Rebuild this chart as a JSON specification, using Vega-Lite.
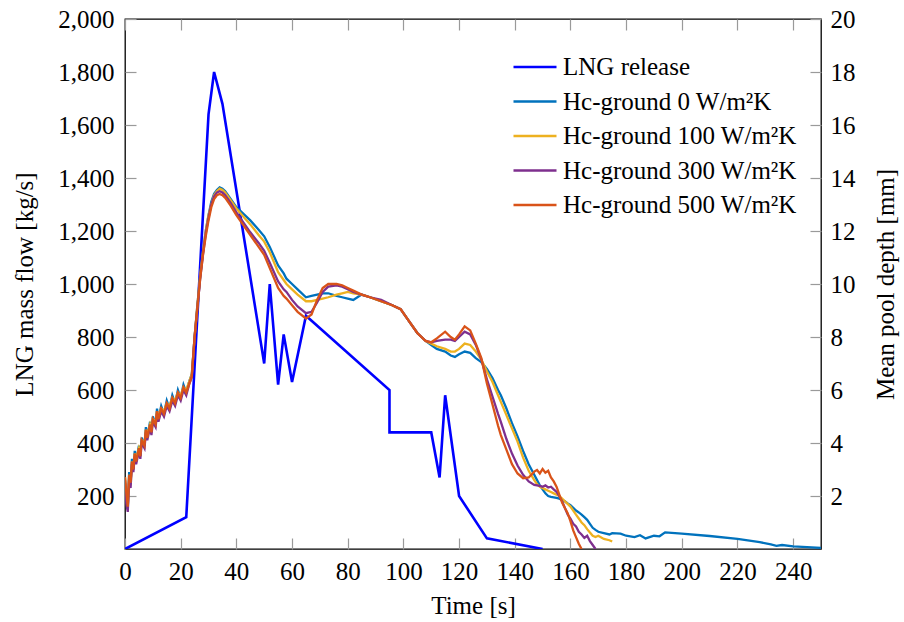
{
  "$schema": "https://vega.github.io/schema/vega-lite/v6.json",
  "width": 696,
  "height": 530,
  "autosize": {"type": "none"},
  "padding": {"left": 125, "top": 19, "right": 83, "bottom": 73},
  "config": {
    "view": {"stroke": "black", "strokeWidth": 1.3},
    "font": "Liberation Serif",
    "axis": {
      "domain": false,
      "grid": false,
      "tickColor": "#9a9a9a",
      "tickSize": -11,
      "tickWidth": 1.2,
      "labelFontSize": 25,
      "titleFontSize": 25,
      "labelColor": "black",
      "titleColor": "black",
      "titleFontWeight": "normal",
      "labelFont": "Liberation Serif",
      "titleFont": "Liberation Serif"
    },
    "legend": {"labelFont": "Liberation Serif"}
  },
  "layer": [
    {
      "data": {
        "values": [
          {"t": 0, "v": 0}, {"t": 22, "v": 120}, {"t": 30, "v": 1640}, {"t": 32, "v": 1800},
          {"t": 35, "v": 1680}, {"t": 50, "v": 700}, {"t": 52, "v": 1000}, {"t": 55, "v": 620},
          {"t": 57, "v": 810}, {"t": 60, "v": 630}, {"t": 65, "v": 880}, {"t": 95, "v": 600},
          {"t": 95, "v": 440}, {"t": 110, "v": 440}, {"t": 113, "v": 270}, {"t": 115, "v": 580},
          {"t": 120, "v": 200}, {"t": 130, "v": 40}, {"t": 150, "v": 0}
        ]
      },
      "mark": {"type": "line", "strokeWidth": 2.6, "clip": true},
      "encoding": {
        "x": {
          "field": "t", "type": "quantitative",
          "scale": {"domain": [0, 250], "nice": false, "zero": false},
          "axis": {"orient": "bottom", "title": "Time [s]", "values": [0, 20, 40, 60, 80, 100, 120, 140, 160, 180, 200, 220, 240], "labelPadding": 21, "titlePadding": 9, "labelFlush": false}
        },
        "y": {
          "field": "v", "type": "quantitative",
          "scale": {"domain": [0, 2000], "nice": false},
          "axis": {"orient": "left", "title": "LNG mass flow [kg/s]", "values": [200, 400, 600, 800, 1000, 1200, 1400, 1600, 1800, 2000], "format": ",.0f", "labelPadding": 22, "titlePadding": 20}
        },
        "color": {
          "datum": "LNG", "type": "nominal",
          "scale": {"domain": ["LNG", "h0", "h100", "h300", "h500"], "range": ["#0000ff", "#0072BD", "#EDB120", "#7E2F8E", "#D95319"]},
          "legend": {
            "orient": "none", "legendX": 387, "legendY": 36, "title": null,
            "symbolType": "stroke", "symbolSize": 1850, "symbolStrokeWidth": 2.5,
            "labelFontSize": 25, "labelOffset": 5, "clipHeight": 24, "rowPadding": 9.5, "labelLimit": 500,
            "labelColor": "black",
            "labelExpr": "datum.value == 'LNG' ? 'LNG release' : datum.value == 'h0' ? 'Hc-ground 0 W/m²K' : datum.value == 'h100' ? 'Hc-ground 100 W/m²K' : datum.value == 'h300' ? 'Hc-ground 300 W/m²K' : 'Hc-ground 500 W/m²K'"
          }
        }
      }
    },
    {
      "data": {
        "values": [
          {"t": 0, "h0": 2.6, "h100": 2.7, "h300": 2.5, "h500": 2.7},
          {"t": 0.5, "h0": 1.9, "h100": 2.0, "h300": 1.7, "h500": 2.1},
          {"t": 1, "h0": 1.5, "h100": 1.6, "h300": 1.4, "h500": 1.6},
          {"t": 1.5, "h0": 2.9, "h100": 2.8, "h300": 2.7, "h500": 2.8},
          {"t": 2, "h0": 2.5, "h100": 2.4, "h300": 2.3, "h500": 2.5},
          {"t": 2.5, "h0": 3.4, "h100": 3.3, "h300": 3.2, "h500": 3.3},
          {"t": 3, "h0": 3.0, "h100": 3.1, "h300": 2.9, "h500": 3.0},
          {"t": 3.5, "h0": 3.7, "h100": 3.6, "h300": 3.5, "h500": 3.6},
          {"t": 4, "h0": 3.3, "h100": 3.4, "h300": 3.2, "h500": 3.3},
          {"t": 5, "h0": 3.9, "h100": 3.8, "h300": 3.7, "h500": 3.8},
          {"t": 5.5, "h0": 3.5, "h100": 3.6, "h300": 3.4, "h500": 3.5},
          {"t": 6, "h0": 4.2, "h100": 4.1, "h300": 4.0, "h500": 4.1},
          {"t": 7, "h0": 3.9, "h100": 4.0, "h300": 3.8, "h500": 3.9},
          {"t": 7.5, "h0": 4.6, "h100": 4.5, "h300": 4.4, "h500": 4.5},
          {"t": 8, "h0": 4.2, "h100": 4.3, "h300": 4.1, "h500": 4.2},
          {"t": 9, "h0": 4.8, "h100": 4.7, "h300": 4.6, "h500": 4.7},
          {"t": 9.5, "h0": 4.4, "h100": 4.5, "h300": 4.3, "h500": 4.4},
          {"t": 10, "h0": 5.0, "h100": 4.9, "h300": 4.8, "h500": 4.9},
          {"t": 11, "h0": 4.7, "h100": 4.8, "h300": 4.6, "h500": 4.7},
          {"t": 11.5, "h0": 5.3, "h100": 5.2, "h300": 5.1, "h500": 5.2},
          {"t": 12, "h0": 4.9, "h100": 5.0, "h300": 4.8, "h500": 4.9},
          {"t": 13, "h0": 5.4, "h100": 5.3, "h300": 5.2, "h500": 5.3},
          {"t": 14, "h0": 5.1, "h100": 5.2, "h300": 5.0, "h500": 5.1},
          {"t": 15, "h0": 5.6, "h100": 5.5, "h300": 5.4, "h500": 5.5},
          {"t": 16, "h0": 5.3, "h100": 5.4, "h300": 5.2, "h500": 5.3},
          {"t": 17, "h0": 5.8, "h100": 5.7, "h300": 5.6, "h500": 5.7},
          {"t": 18, "h0": 5.5, "h100": 5.6, "h300": 5.4, "h500": 5.5},
          {"t": 19, "h0": 6.0, "h100": 5.9, "h300": 5.8, "h500": 5.9},
          {"t": 20, "h0": 5.7, "h100": 5.8, "h300": 5.6, "h500": 5.7},
          {"t": 21, "h0": 6.2, "h100": 6.1, "h300": 6.0, "h500": 6.1},
          {"t": 22, "h0": 5.9, "h100": 6.0, "h300": 5.8, "h500": 5.9},
          {"t": 23, "h0": 6.3, "h100": 6.3, "h300": 6.2, "h500": 6.2},
          {"t": 24, "h0": 6.6, "h100": 6.6, "h300": 6.5, "h500": 6.5},
          {"t": 25, "h0": 8.0, "h100": 8.0, "h300": 8.0, "h500": 8.0},
          {"t": 26, "h0": 9.2, "h100": 9.2, "h300": 9.1, "h500": 9.1},
          {"t": 27, "h0": 10.3, "h100": 10.3, "h300": 10.2, "h500": 10.2},
          {"t": 28, "h0": 11.2, "h100": 11.2, "h300": 11.1, "h500": 11.1},
          {"t": 29, "h0": 12.0, "h100": 12.0, "h300": 11.9, "h500": 11.8},
          {"t": 30, "h0": 12.6, "h100": 12.6, "h300": 12.5, "h500": 12.4},
          {"t": 31, "h0": 13.1, "h100": 13.0, "h300": 13.0, "h500": 12.9},
          {"t": 32, "h0": 13.4, "h100": 13.35, "h300": 13.3, "h500": 13.2},
          {"t": 33, "h0": 13.55, "h100": 13.5, "h300": 13.45, "h500": 13.35},
          {"t": 34, "h0": 13.65, "h100": 13.6, "h300": 13.5, "h500": 13.4},
          {"t": 35, "h0": 13.6, "h100": 13.55, "h300": 13.45, "h500": 13.35},
          {"t": 36, "h0": 13.5, "h100": 13.45, "h300": 13.35, "h500": 13.25},
          {"t": 38, "h0": 13.2, "h100": 13.15, "h300": 13.05, "h500": 12.95},
          {"t": 40, "h0": 12.9, "h100": 12.85, "h300": 12.7, "h500": 12.6},
          {"t": 42, "h0": 12.7, "h100": 12.6, "h300": 12.4, "h500": 12.3},
          {"t": 45, "h0": 12.4, "h100": 12.25, "h300": 11.95, "h500": 11.85},
          {"t": 48, "h0": 12.05, "h100": 11.85, "h300": 11.55, "h500": 11.4},
          {"t": 50, "h0": 11.8, "h100": 11.6, "h300": 11.25, "h500": 11.1},
          {"t": 52, "h0": 11.4, "h100": 11.2, "h300": 10.8, "h500": 10.6},
          {"t": 55, "h0": 10.7, "h100": 10.45, "h300": 10.1, "h500": 9.85},
          {"t": 57, "h0": 10.4, "h100": 10.15, "h300": 9.8, "h500": 9.55},
          {"t": 58, "h0": 10.2, "h100": 10.0, "h300": 9.7, "h500": 9.45},
          {"t": 60, "h0": 10.0, "h100": 9.8, "h300": 9.4, "h500": 9.2},
          {"t": 62, "h0": 9.8, "h100": 9.6, "h300": 9.15, "h500": 8.95},
          {"t": 65, "h0": 9.5, "h100": 9.35, "h300": 8.9, "h500": 8.7},
          {"t": 67, "h0": 9.55, "h100": 9.35, "h300": 8.95, "h500": 8.85},
          {"t": 69, "h0": 9.6, "h100": 9.4, "h300": 9.3, "h500": 9.4},
          {"t": 71, "h0": 9.65, "h100": 9.45, "h300": 9.7, "h500": 9.85},
          {"t": 73, "h0": 9.65, "h100": 9.5, "h300": 9.9, "h500": 10.0},
          {"t": 76, "h0": 9.55, "h100": 9.6, "h300": 9.95, "h500": 10.0},
          {"t": 78, "h0": 9.5, "h100": 9.65, "h300": 9.9, "h500": 9.95},
          {"t": 80, "h0": 9.45, "h100": 9.7, "h300": 9.8, "h500": 9.85},
          {"t": 82, "h0": 9.4, "h100": 9.65, "h300": 9.7, "h500": 9.75},
          {"t": 85, "h0": 9.6, "h100": 9.6, "h300": 9.6, "h500": 9.6},
          {"t": 88, "h0": 9.5, "h100": 9.5, "h300": 9.5, "h500": 9.5},
          {"t": 92, "h0": 9.35, "h100": 9.35, "h300": 9.4, "h500": 9.35},
          {"t": 96, "h0": 9.2, "h100": 9.2, "h300": 9.2, "h500": 9.2},
          {"t": 99, "h0": 9.05, "h100": 9.05, "h300": 9.05, "h500": 9.05},
          {"t": 102, "h0": 8.6, "h100": 8.6, "h300": 8.6, "h500": 8.6},
          {"t": 105, "h0": 8.15, "h100": 8.15, "h300": 8.15, "h500": 8.15},
          {"t": 108, "h0": 7.85, "h100": 7.85, "h300": 7.85, "h500": 7.85},
          {"t": 110, "h0": 7.7, "h100": 7.75, "h300": 7.8, "h500": 7.8},
          {"t": 112, "h0": 7.55, "h100": 7.65, "h300": 7.85, "h500": 7.95},
          {"t": 115, "h0": 7.45, "h100": 7.55, "h300": 7.9, "h500": 8.2},
          {"t": 117, "h0": 7.3, "h100": 7.45, "h300": 7.9, "h500": 8.0},
          {"t": 118.5, "h0": 7.25, "h100": 7.45, "h300": 7.85, "h500": 7.9},
          {"t": 120, "h0": 7.35, "h100": 7.55, "h300": 8.0, "h500": 8.1},
          {"t": 122, "h0": 7.45, "h100": 7.75, "h300": 8.2, "h500": 8.4},
          {"t": 124, "h0": 7.4, "h100": 7.7, "h300": 8.1, "h500": 8.25},
          {"t": 126, "h0": 7.2, "h100": 7.45, "h300": 7.7, "h500": 7.75},
          {"t": 128, "h0": 7.05, "h100": 7.15, "h300": 7.15, "h500": 7.2},
          {"t": 130, "h0": 6.8, "h100": 6.7, "h300": 6.4, "h500": 6.25},
          {"t": 132, "h0": 6.45, "h100": 6.3, "h300": 5.75, "h500": 5.45},
          {"t": 134, "h0": 6.0, "h100": 5.8, "h300": 5.1, "h500": 4.65},
          {"t": 135, "h0": 5.8, "h100": 5.55, "h300": 4.8, "h500": 4.3},
          {"t": 137, "h0": 5.3, "h100": 5.05, "h300": 4.15, "h500": 3.75},
          {"t": 139, "h0": 4.75, "h100": 4.55, "h300": 3.6, "h500": 3.2},
          {"t": 141, "h0": 4.25, "h100": 4.05, "h300": 3.15, "h500": 2.85},
          {"t": 143, "h0": 3.7, "h100": 3.45, "h300": 2.8, "h500": 2.67},
          {"t": 145, "h0": 3.2, "h100": 2.95, "h300": 2.55, "h500": 2.7},
          {"t": 147, "h0": 2.8, "h100": 2.6, "h300": 2.42, "h500": 2.92},
          {"t": 148, "h0": 2.6, "h100": 2.45, "h300": 2.4, "h500": 2.98},
          {"t": 149, "h0": 2.4, "h100": 2.35, "h300": 2.38, "h500": 2.85},
          {"t": 150, "h0": 2.25, "h100": 2.3, "h300": 2.35, "h500": 3.02},
          {"t": 151, "h0": 2.1, "h100": 2.25, "h300": 2.4, "h500": 2.88},
          {"t": 152, "h0": 2.0, "h100": 2.2, "h300": 2.32, "h500": 2.95},
          {"t": 153, "h0": 1.97, "h100": 2.15, "h300": 2.35, "h500": 2.7},
          {"t": 154, "h0": 1.95, "h100": 2.1, "h300": 2.25, "h500": 2.55},
          {"t": 155, "h0": 1.93, "h100": 2.05, "h300": 2.16, "h500": 2.35},
          {"t": 156, "h0": 1.9, "h100": 2.0, "h300": 2.0, "h500": 2.05},
          {"t": 157, "h0": 1.85, "h100": 1.9, "h300": 1.8, "h500": 1.75},
          {"t": 158, "h0": 1.8, "h100": 1.8, "h300": 1.55, "h500": 1.55},
          {"t": 159, "h0": 1.72, "h100": 1.7, "h300": 1.3, "h500": 1.35},
          {"t": 160, "h0": 1.65, "h100": 1.6, "h300": 1.15, "h500": 1.05},
          {"t": 161, "h0": 1.55, "h100": 1.45, "h300": 0.95, "h500": 0.7},
          {"t": 162, "h0": 1.45, "h100": 1.3, "h300": 0.85, "h500": 0.45},
          {"t": 163, "h0": 1.38, "h100": 1.15, "h300": 0.65, "h500": 0.2},
          {"t": 164, "h0": 1.3, "h100": 1.0, "h300": 0.55, "h500": 0.0},
          {"t": 165, "h0": 1.2, "h100": 0.9, "h300": 0.42},
          {"t": 166, "h0": 1.1, "h100": 0.75, "h300": 0.5},
          {"t": 167, "h0": 0.95, "h100": 0.62, "h300": 0.3},
          {"t": 168, "h0": 0.8, "h100": 0.5, "h300": 0.15},
          {"t": 169, "h0": 0.72, "h100": 0.45, "h300": 0.0},
          {"t": 170, "h0": 0.65, "h100": 0.5},
          {"t": 172, "h0": 0.6, "h100": 0.38},
          {"t": 174, "h0": 0.55, "h100": 0.33},
          {"t": 175, "h0": 0.6, "h100": 0.28},
          {"t": 178, "h0": 0.58},
          {"t": 180, "h0": 0.5},
          {"t": 183, "h0": 0.45},
          {"t": 185, "h0": 0.52},
          {"t": 187, "h0": 0.4},
          {"t": 190, "h0": 0.5},
          {"t": 192, "h0": 0.48},
          {"t": 194, "h0": 0.63},
          {"t": 200, "h0": 0.58},
          {"t": 210, "h0": 0.49},
          {"t": 220, "h0": 0.38},
          {"t": 228, "h0": 0.26},
          {"t": 232, "h0": 0.17},
          {"t": 234, "h0": 0.12},
          {"t": 236, "h0": 0.15},
          {"t": 240, "h0": 0.1},
          {"t": 245, "h0": 0.07},
          {"t": 250, "h0": 0.04}
        ]
      },
      "transform": [{"fold": ["h0", "h100", "h300", "h500"], "as": ["series", "v"]}],
      "mark": {"type": "line", "strokeWidth": 2.3, "clip": true},
      "encoding": {
        "x": {
          "field": "t", "type": "quantitative",
          "scale": {"domain": [0, 250], "nice": false, "zero": false},
          "axis": {"orient": "top", "title": null, "labels": false, "values": [0, 20, 40, 60, 80, 100, 120, 140, 160, 180, 200, 220, 240]}
        },
        "y": {
          "field": "v", "type": "quantitative",
          "scale": {"domain": [0, 20], "nice": false},
          "axis": {"orient": "right", "title": "Mean pool depth [mm]", "titleAngle": -90, "values": [2, 4, 6, 8, 10, 12, 14, 16, 18, 20], "labelPadding": 20, "titlePadding": 43}
        },
        "color": {
          "field": "series", "type": "nominal",
          "legend": {
            "orient": "none", "legendX": 387, "legendY": 36, "title": null,
            "symbolType": "stroke", "symbolSize": 1850, "symbolStrokeWidth": 2.5,
            "labelFontSize": 25, "labelOffset": 5, "clipHeight": 24, "rowPadding": 9.5, "labelLimit": 500,
            "labelColor": "black",
            "labelExpr": "datum.value == 'LNG' ? 'LNG release' : datum.value == 'h0' ? 'Hc-ground 0 W/m²K' : datum.value == 'h100' ? 'Hc-ground 100 W/m²K' : datum.value == 'h300' ? 'Hc-ground 300 W/m²K' : 'Hc-ground 500 W/m²K'"
          }
        }
      }
    }
  ],
  "resolve": {"scale": {"y": "independent"}, "axis": {"x": "independent"}}
}
